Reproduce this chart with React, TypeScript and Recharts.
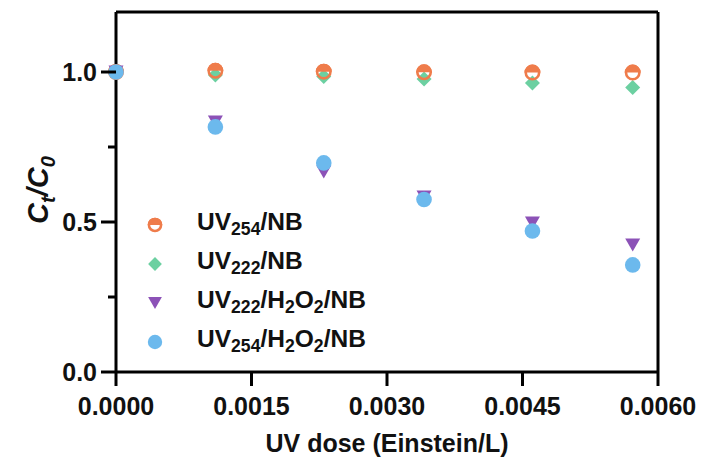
import React from 'react';
import { ScatterChart, Scatter, XAxis, YAxis, ReferenceLine, Legend } from 'recharts';

const doses = [0, 0.0011, 0.0023, 0.00341, 0.00461, 0.00572];
const uv254NB = [1.0, 1.004, 1.001, 0.999, 0.998, 0.998];
const uv222NB = [1.0, 0.99, 0.985, 0.977, 0.963, 0.948];
const uv222H2O2NB = [1.0, 0.833, 0.667, 0.583, 0.497, 0.423];
const uv254H2O2NB = [1.0, 0.817, 0.697, 0.575, 0.47, 0.357];

const xTicks = [0, 0.0015, 0.003, 0.0045, 0.006];
const yTicks = [0, 0.25, 0.5, 0.75, 1.0];
const yMajor = [0, 0.5, 1.0];

const FONT = '"Liberation Sans", Arial, Helvetica, sans-serif';
const C_ORANGE = '#EF7C4B';
const C_GREEN = '#6CD0A1';
const C_PURPLE = '#8C52B7';
const C_BLUE = '#6CB9ED';

const toPts = (ys: number[]) => doses.map((x, i) => ({ x, y: ys[i] }));

type SymKind = 'half' | 'diamond' | 'tri' | 'circle';

function Sym({ kind, cx, cy, color, s = 1 }: { kind: SymKind; cx: number; cy: number; color: string; s?: number }) {
  if (kind === 'half') {
    const r = 8 * s;
    return (
      <g>
        <path d={`M${cx - r},${cy} A${r},${r} 0 0 1 ${cx + r},${cy} Z`} fill={color} />
        <circle cx={cx} cy={cy} r={r - 1.3} fill="none" stroke={color} strokeWidth={2.6} />
      </g>
    );
  }
  if (kind === 'diamond') {
    const d = 7.5 * s;
    return <path d={`M${cx},${cy - d} L${cx + d},${cy} L${cx},${cy + d} L${cx - d},${cy} Z`} fill={color} />;
  }
  if (kind === 'tri') {
    const w = 7.5 * s;
    const h = 13 * s;
    return <path d={`M${cx - w},${cy - h / 2} L${cx + w},${cy - h / 2} L${cx},${cy + h / 2} Z`} fill={color} />;
  }
  return <circle cx={cx} cy={cy} r={7.8 * s} fill={color} />;
}

const series = [
  { key: 'uv254NB', data: uv254NB, kind: 'half' as SymKind, color: C_ORANGE, main: 'UV', sub1: '254', rest: [['/NB', '']] },
  { key: 'uv222NB', data: uv222NB, kind: 'diamond' as SymKind, color: C_GREEN, main: 'UV', sub1: '222', rest: [['/NB', '']] },
  { key: 'uv222H2O2NB', data: uv222H2O2NB, kind: 'tri' as SymKind, color: C_PURPLE, main: 'UV', sub1: '222', rest: [['/H', '2'], ['O', '2'], ['/NB', '']] },
  { key: 'uv254H2O2NB', data: uv254H2O2NB, kind: 'circle' as SymKind, color: C_BLUE, main: 'UV', sub1: '254', rest: [['/H', '2'], ['O', '2'], ['/NB', '']] },
];

const drawOrder = [1, 0, 2, 3];

const Sub = ({ children }: { children: React.ReactNode }) => (
  <span style={{ fontSize: '0.72em', position: 'relative', top: '0.34em' }}>{children}</span>
);

const LegendContent = () => (
  <div style={{ fontFamily: FONT, fontWeight: 'bold', fontSize: 24.5, color: '#111' }}>
    {series.map((s) => (
      <div key={s.key} style={{ display: 'flex', alignItems: 'center', height: 39 }}>
        <svg width={30} height={20} style={{ marginRight: 27 }}>
          <Sym kind={s.kind} cx={15} cy={10} color={s.color} s={0.92} />
        </svg>
        <span style={{ lineHeight: '24px', whiteSpace: 'nowrap', position: 'relative', top: -2 }}>
          {s.main}
          <Sub>{s.sub1}</Sub>
          {s.rest.map(([t, sb], i) => (
            <React.Fragment key={i}>
              {t}
              {sb ? <Sub>{sb}</Sub> : null}
            </React.Fragment>
          ))}
        </span>
      </div>
    ))}
  </div>
);

const XTick = (props: any) => {
  const { x, y, payload } = props;
  return (
    <g>
      <line x1={x} x2={x} y1={y} y2={y + 14} stroke="#000" strokeWidth={3} />
      <text x={x} y={y + 25} dy="0.71em" textAnchor="middle" fontFamily={FONT} fontWeight="bold" fontSize={25} fill="#111">
        {Number(payload.value).toFixed(4)}
      </text>
    </g>
  );
};

const YTick = (props: any) => {
  const { x, y, payload } = props;
  const v = Number(payload.value);
  const major = yMajor.some((m) => Math.abs(m - v) < 1e-9);
  return (
    <g>
      <line x1={x - (major ? 15 : 8)} x2={x} y1={y} y2={y} stroke="#000" strokeWidth={3} />
      {major ? (
        <text x={x - 19} y={y} dy="0.36em" textAnchor="end" fontFamily={FONT} fontWeight="bold" fontSize={25} fill="#111">
          {v.toFixed(1)}
        </text>
      ) : null}
    </g>
  );
};

const YLabel = () => (
  <text
    x={0}
    y={0}
    transform="translate(48,190) rotate(-90)"
    textAnchor="middle"
    fontFamily={FONT}
    fontWeight="bold"
    fontStyle="italic"
    fontSize={29}
    fill="#111"
  >
    C<tspan fontSize={20} dy={7}>t</tspan>
    <tspan dy={-7}>/C</tspan>
    <tspan fontSize={20} dy={7}>0</tspan>
  </text>
);

export default function App() {
  return (
    <div style={{ position: 'absolute', left: 0, top: 0, width: 702, height: 466, background: '#fff' }}>
      <ScatterChart width={702} height={466} margin={{ top: 12, right: 44, bottom: 0, left: 0 }}>
        <XAxis
          type="number"
          dataKey="x"
          domain={[0, 0.006]}
          ticks={xTicks}
          interval={0}
          height={94}
          tickSize={0}
          tickMargin={0}
          tickLine={false}
          axisLine={{ stroke: '#000', strokeWidth: 3 }}
          tick={<XTick />}
          label={{
            value: 'UV dose (Einstein/L)',
            position: 'insideBottom',
            offset: 14,
            style: { fontFamily: FONT, fontWeight: 'bold', fontSize: 25, fill: '#111' },
          }}
        />
        <YAxis
          type="number"
          dataKey="y"
          domain={[0, 1.2]}
          ticks={yTicks}
          interval={0}
          width={116}
          tickSize={0}
          tickMargin={0}
          tickLine={false}
          axisLine={{ stroke: '#000', strokeWidth: 3 }}
          tick={<YTick />}
          label={<YLabel />}
        />
        <ReferenceLine y={1.2} stroke="#000" strokeWidth={3} />
        <ReferenceLine x={0.006} stroke="#000" strokeWidth={3} />
        {drawOrder.map((i) => {
          const s = series[i];
          return (
            <Scatter
              key={s.key}
              name={s.key}
              data={toPts(s.data)}
              fill={s.color}
              isAnimationActive={false}
              shape={(p: any) => <Sym kind={s.kind} cx={p.cx} cy={p.cy} color={s.color} />}
            />
          );
        })}
        <Legend
          layout="vertical"
          align="center"
          verticalAlign="middle"
          content={<LegendContent />}
          wrapperStyle={{ position: 'absolute', left: 140, top: 205, width: 280, height: 160 }}
        />
      </ScatterChart>
    </div>
  );
}
